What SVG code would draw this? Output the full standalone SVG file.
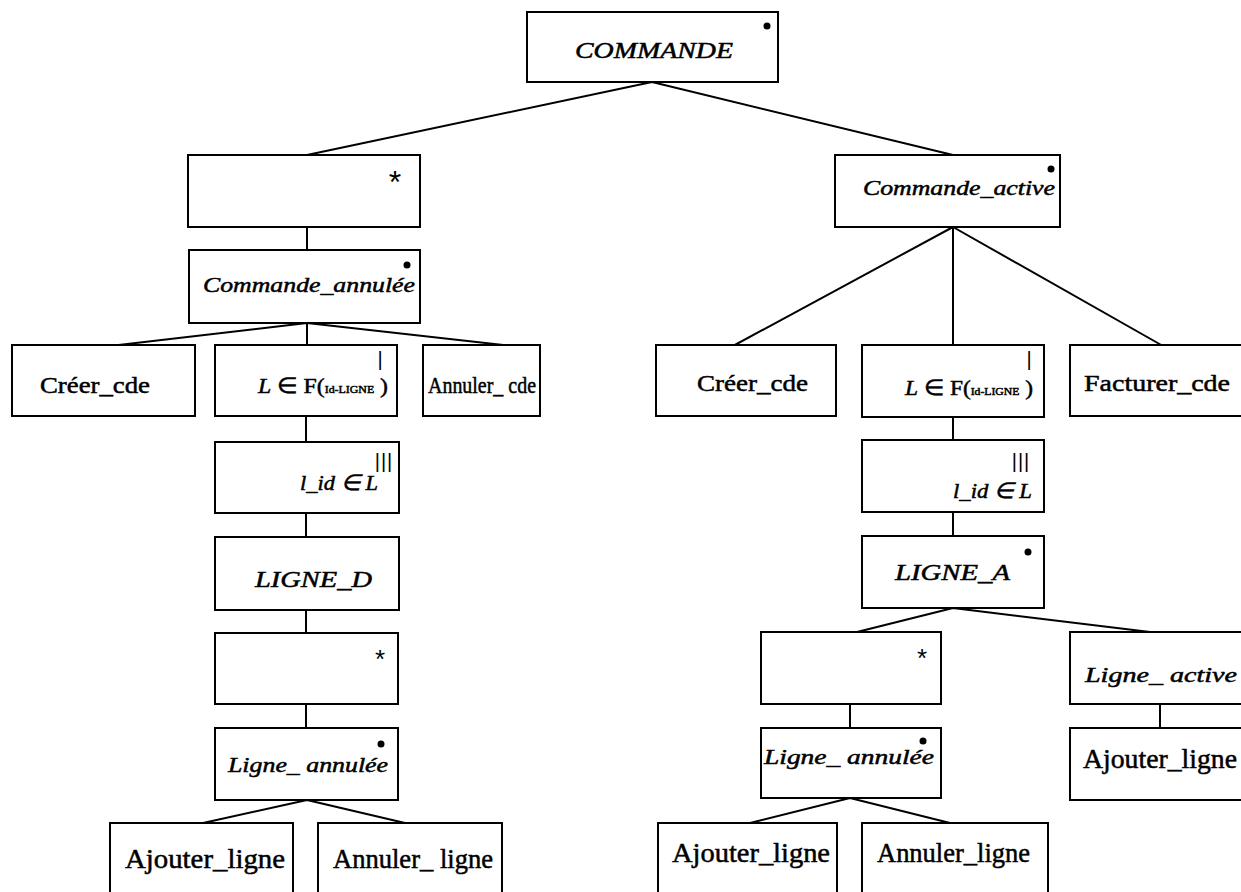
<svg xmlns="http://www.w3.org/2000/svg" width="1241" height="892" viewBox="0 0 1241 892">
<style>
  .box{fill:#fff;stroke:#000;stroke-width:2}
  .ln{stroke:#000;stroke-width:2;fill:none}
  .t{font-family:"Liberation Serif","Times New Roman",serif;fill:#000;stroke:#000;stroke-width:0.5}
  .it{font-style:italic}
  .s{font-family:"Liberation Sans",Arial,sans-serif;fill:#000}
  .dot{fill:#000}
</style>
<rect width="1241" height="892" fill="#fff"/>
<g id="connectors">
  <path class="ln" d="M652,82 L307,155 M652,82 L953,155"/>
  <path class="ln" d="M307,227 L307,250"/>
  <path class="ln" d="M307,323 L110,346 M307,323 L307,346 M307,323 L513,346"/>
  <path class="ln" d="M306,416 L306,442 M306,513 L306,537 M306,610 L306,633 M306,704 L306,728"/>
  <path class="ln" d="M307,800 L203,823 M307,800 L405,823"/>
  <path class="ln" d="M953,227 L733,346 M953,227 L953,346 M953,227 L1163,346"/>
  <path class="ln" d="M953,417 L953,440 M953,512 L953,536"/>
  <path class="ln" d="M953,608 L857,632 M953,608 L1150,632"/>
  <path class="ln" d="M850,704 L850,728 M1160,704 L1160,728"/>
  <path class="ln" d="M850,798 L750,823 M850,798 L950,823"/>
</g>
<g id="n-commande">
  <rect class="box" x="527" y="12" width="251" height="70"/>
  <text class="t it" x="575" y="58" font-size="23" textLength="158" lengthAdjust="spacingAndGlyphs">COMMANDE</text>
  <circle class="dot" cx="767" cy="26" r="3.5"/>
</g>
<g id="n-iter-cde">
  <rect class="box" x="188" y="155" width="232" height="72"/>
  <text class="s" x="395" y="193" font-size="32" text-anchor="middle">*</text>
</g>
<g id="n-commande-annulee">
  <rect class="box" x="189" y="250" width="231" height="73"/>
  <text class="t it" x="203" y="292" font-size="22" textLength="212" lengthAdjust="spacingAndGlyphs">Commande_annulée</text>
  <circle class="dot" cx="407" cy="265" r="3.5"/>
</g>
<g id="n-creer-cde-1">
  <rect class="box" x="12" y="345" width="183" height="71"/>
  <text class="t" x="40" y="393" font-size="24" textLength="110" lengthAdjust="spacingAndGlyphs">Créer_cde</text>
</g>
<g id="n-lf-1">
  <rect class="box" x="215" y="345" width="182" height="71"/>
  <text class="s" x="380" y="366" font-size="20" text-anchor="middle">|</text>
  <text class="t" x="258" y="393" font-size="22" textLength="130" lengthAdjust="spacingAndGlyphs"><tspan font-style="italic">L</tspan> ∈ F(<tspan font-size="11">Id-LIGNE</tspan> )</text>
</g>
<g id="n-annuler-cde">
  <rect class="box" x="423" y="345" width="117" height="71"/>
  <text class="t" x="428" y="393" font-size="24" textLength="108" lengthAdjust="spacingAndGlyphs">Annuler_ cde</text>
</g>
<g id="n-lid-1">
  <rect class="box" x="215" y="442" width="184" height="71"/>
  <text class="s" x="384" y="468" font-size="20" text-anchor="middle" letter-spacing="1">|||</text>
  <text class="t it" x="300" y="490" font-size="22" textLength="78" lengthAdjust="spacingAndGlyphs">l_id ∈ L</text>
</g>
<g id="n-ligne-d">
  <rect class="box" x="215" y="537" width="184" height="73"/>
  <text class="t it" x="255" y="587" font-size="24" textLength="117" lengthAdjust="spacingAndGlyphs">LIGNE_D</text>
</g>
<g id="n-iter-ligne-1">
  <rect class="box" x="215" y="633" width="183" height="71"/>
  <text class="s" x="380" y="668" font-size="26" text-anchor="middle">*</text>
</g>
<g id="n-ligne-annulee-1">
  <rect class="box" x="215" y="728" width="183" height="72"/>
  <text class="t it" x="228" y="772" font-size="22" textLength="160" lengthAdjust="spacingAndGlyphs">Ligne_ annulée</text>
  <circle class="dot" cx="381" cy="744" r="3.5"/>
</g>
<g id="n-ajouter-ligne-1">
  <rect class="box" x="110" y="823" width="183" height="75"/>
  <text class="t" x="125" y="868" font-size="27" textLength="160" lengthAdjust="spacingAndGlyphs">Ajouter_ligne</text>
</g>
<g id="n-annuler-ligne-1">
  <rect class="box" x="318" y="823" width="184" height="75"/>
  <text class="t" x="333" y="868" font-size="27" textLength="160" lengthAdjust="spacingAndGlyphs">Annuler_ ligne</text>
</g>
<g id="n-commande-active">
  <rect class="box" x="835" y="155" width="225" height="72"/>
  <text class="t it" x="863" y="195" font-size="22" textLength="192" lengthAdjust="spacingAndGlyphs">Commande_active</text>
  <circle class="dot" cx="1051" cy="169" r="3.5"/>
</g>
<g id="n-creer-cde-2">
  <rect class="box" x="656" y="345" width="180" height="71"/>
  <text class="t" x="697" y="391" font-size="24" textLength="111" lengthAdjust="spacingAndGlyphs">Créer_cde</text>
</g>
<g id="n-lf-2">
  <rect class="box" x="862" y="345" width="182" height="72"/>
  <text class="s" x="1029" y="366" font-size="20" text-anchor="middle">|</text>
  <text class="t" x="905" y="395" font-size="22" textLength="128" lengthAdjust="spacingAndGlyphs"><tspan font-style="italic">L</tspan> ∈ F(<tspan font-size="11">Id-LIGNE</tspan> )</text>
</g>
<g id="n-facturer-cde">
  <rect class="box" x="1070" y="345" width="180" height="71"/>
  <text class="t" x="1084" y="391" font-size="24" textLength="146" lengthAdjust="spacingAndGlyphs">Facturer_cde</text>
</g>
<g id="n-lid-2">
  <rect class="box" x="862" y="440" width="182" height="72"/>
  <text class="s" x="1021" y="468" font-size="20" text-anchor="middle" letter-spacing="1">|||</text>
  <text class="t it" x="953" y="498" font-size="22" textLength="79" lengthAdjust="spacingAndGlyphs">l_id ∈ L</text>
</g>
<g id="n-ligne-a">
  <rect class="box" x="862" y="536" width="182" height="72"/>
  <text class="t it" x="895" y="580" font-size="24" textLength="115" lengthAdjust="spacingAndGlyphs">LIGNE_A</text>
  <circle class="dot" cx="1028" cy="552" r="3.5"/>
</g>
<g id="n-iter-ligne-2">
  <rect class="box" x="761" y="632" width="180" height="72"/>
  <text class="s" x="922" y="667" font-size="26" text-anchor="middle">*</text>
</g>
<g id="n-ligne-active">
  <rect class="box" x="1070" y="632" width="180" height="72"/>
  <text class="t it" x="1085" y="682" font-size="22" textLength="152" lengthAdjust="spacingAndGlyphs">Ligne_ active</text>
</g>
<g id="n-ligne-annulee-2">
  <rect class="box" x="761" y="728" width="180" height="70"/>
  <text class="t it" x="764" y="764" font-size="22" textLength="170" lengthAdjust="spacingAndGlyphs">Ligne_ annulée</text>
  <circle class="dot" cx="923" cy="741" r="3.5"/>
</g>
<g id="n-ajouter-ligne-2">
  <rect class="box" x="1070" y="728" width="180" height="72"/>
  <text class="t" x="1083" y="768" font-size="27" textLength="154" lengthAdjust="spacingAndGlyphs">Ajouter_ligne</text>
</g>
<g id="n-ajouter-ligne-3">
  <rect class="box" x="658" y="823" width="179" height="75"/>
  <text class="t" x="672" y="862" font-size="27" textLength="158" lengthAdjust="spacingAndGlyphs">Ajouter_ligne</text>
</g>
<g id="n-annuler-ligne-2">
  <rect class="box" x="862" y="823" width="186" height="75"/>
  <text class="t" x="877" y="862" font-size="27" textLength="153" lengthAdjust="spacingAndGlyphs">Annuler_ligne</text>
</g>
</svg>
